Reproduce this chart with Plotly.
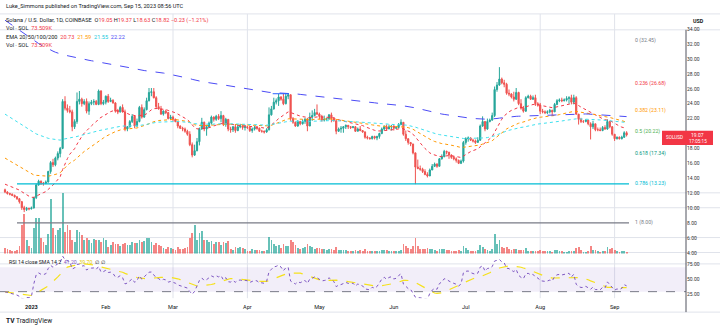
import pandas as pd
import plotly.graph_objects as go

W, H = 720, 332
PLOT_W = 686
FONT = "Roboto, Arial, sans-serif"

# ---------------- data ----------------
dates = pd.date_range("2022-12-21", "2023-09-06", freq="D")
first_open = 12.45

close = [
    # Dec 21-31
    12.15, 11.95, 11.85, 11.7, 11.5, 11.25, 10.85, 10.05, 9.8, 9.95, 9.9,
    # Jan
    10.0, 11.4, 13.1, 13.6, 13.35, 13.3, 13.5, 14.9, 16.1, 15.8, 16.7, 17.3, 18.0, 24.3, 23.4, 23.1,
    22.9, 20.9, 21.6, 24.3, 24.6, 24.0, 24.3, 23.0, 24.0, 24.2, 24.3, 23.9, 25.7, 24.0, 24.2,
    # Feb
    25.0, 24.3, 24.45, 24.1, 23.0, 22.9, 23.5, 22.9, 20.6, 20.9, 21.6, 22.3, 21.0, 21.6, 23.5, 22.2,
    23.2, 24.4, 25.5, 25.6, 24.8, 23.6, 23.3, 22.6, 23.0, 22.8, 22.0, 22.2,
    # Mar
    21.9, 21.6, 21.0, 20.7, 20.6, 20.3, 19.9, 18.5, 17.1, 17.7, 18.9, 20.6, 21.5, 20.6, 20.9, 21.4,
    22.2, 21.9, 22.3, 22.0, 22.4, 21.2, 21.9, 20.6, 20.5, 20.9, 20.4, 20.9, 21.0, 20.8, 20.9,
    # Apr
    20.8, 20.4, 20.6, 20.8, 20.7, 20.3, 20.3, 20.2, 20.5, 22.5, 23.3, 24.2, 24.4, 24.9, 24.6, 24.0,
    25.0, 25.2, 22.0, 21.5, 21.0, 21.6, 21.3, 21.6, 21.9, 21.0, 22.2, 22.4, 22.8, 22.6,
    # May
    22.3, 21.8, 21.9, 22.0, 22.5, 22.0, 21.7, 20.3, 20.6, 20.7, 20.9, 21.1, 20.9, 20.8, 20.9, 20.3,
    20.6, 20.4, 20.2, 19.5, 19.4, 19.3, 19.6, 19.4, 19.6, 20.0, 20.6, 20.9, 20.6, 20.9, 21.0,
    # Jun
    20.7, 20.8, 21.2, 21.5, 19.9, 19.3, 18.8, 18.6, 17.4, 15.5, 15.3, 15.2, 14.9, 14.5, 14.3, 15.1,
    15.6, 15.9, 15.6, 16.6, 16.9, 17.6, 17.5, 17.1, 16.8, 16.6, 16.4, 16.0, 16.3, 18.8,
    # Jul
    19.3, 19.4, 19.1, 19.0, 18.8, 19.1, 21.0, 21.6, 20.6, 21.6, 21.8, 22.4, 25.9, 26.5, 27.3, 26.8,
    26.6, 25.4, 25.3, 24.9, 24.6, 25.5, 24.0, 23.4, 23.0, 24.8, 25.0, 24.6, 24.8, 24.0, 23.8,
    # Aug
    23.0, 22.9, 22.8, 22.9, 23.1, 22.9, 23.9, 24.4, 24.5, 24.4, 24.5, 24.7, 24.8, 24.2, 24.8, 22.6,
    21.9, 21.6, 21.6, 21.8, 21.3, 20.9, 21.3, 20.5, 20.5, 20.4, 20.8, 20.6, 21.6, 20.9, 19.9,
    # Sep
    19.3, 19.5, 19.3, 19.5, 20.1, 19.8,
]

high = [
    12.6, 12.25, 12.05, 11.95, 11.8, 11.6, 11.35, 10.95, 10.3, 10.15, 10.05,
    10.2, 11.5, 13.3, 13.8, 13.7, 13.5, 13.7, 15.0, 16.3, 16.6, 16.9, 17.6, 18.2, 24.6, 25.0, 23.9,
    23.7, 23.2, 21.9, 25.5, 25.7, 24.8, 24.6, 24.7, 24.3, 24.5, 24.6, 24.5, 25.9, 25.8, 24.5,
    25.1, 25.3, 24.8, 24.6, 24.2, 23.3, 23.7, 23.9, 23.2, 21.0, 21.8, 22.6, 22.4, 22.0, 23.7, 23.9,
    23.5, 24.8, 26.1, 26.1, 26.1, 25.0, 24.1, 23.7, 23.1, 23.2, 22.9, 22.5,
    22.4, 22.0, 21.6, 21.1, 20.9, 20.8, 20.5, 20.3, 18.8, 18.5, 19.4, 20.8, 22.1, 21.6, 21.1, 21.6,
    22.4, 22.3, 22.5, 22.6, 23.0, 22.5, 22.1, 21.9, 20.9, 21.0, 21.2, 21.2, 21.3, 21.2, 21.1,
    21.0, 20.9, 20.8, 21.0, 21.0, 20.8, 20.5, 20.4, 20.7, 23.5, 23.7, 24.8, 24.7, 25.3, 25.0, 25.3,
    25.4, 25.4, 25.2, 22.2, 21.6, 21.8, 21.7, 21.9, 22.1, 22.1, 22.8, 23.1, 23.3, 23.9,
    22.8, 22.5, 22.4, 22.1, 22.6, 22.8, 22.1, 21.9, 20.8, 21.0, 21.0, 21.2, 21.1, 21.0, 21.0, 21.0,
    20.8, 21.0, 20.4, 20.3, 19.7, 19.5, 19.7, 19.7, 19.7, 20.1, 20.8, 21.1, 21.2, 21.2, 21.1,
    21.1, 21.0, 21.4, 21.9, 21.5, 20.4, 19.1, 18.8, 18.6, 17.4, 16.5, 15.7, 15.4, 15.2, 14.8, 15.3,
    15.9, 16.1, 16.0, 16.7, 17.2, 17.8, 17.7, 17.5, 17.2, 17.0, 16.8, 16.5, 16.5, 19.0,
    19.5, 19.6, 19.5, 19.3, 19.2, 19.5, 21.2, 22.3, 21.5, 22.0, 22.0, 22.8, 26.3, 26.9, 28.9, 27.5,
    27.2, 26.8, 25.9, 25.4, 25.6, 26.1, 25.6, 24.6, 23.7, 25.0, 25.2, 25.2, 25.1, 25.2, 24.2,
    24.1, 23.3, 23.1, 23.1, 23.3, 23.2, 24.1, 24.6, 24.7, 24.8, 24.7, 25.0, 25.0, 25.2, 25.2, 25.0,
    22.6, 22.1, 21.8, 21.9, 21.8, 21.5, 21.7, 21.3, 20.8, 20.8, 21.0, 21.1, 21.9, 21.7, 21.0,
    19.9, 19.6, 19.6, 19.7, 20.3, 20.3,
]

low = [
    12.0, 11.8, 11.7, 11.6, 11.4, 11.1, 10.6, 9.75, 9.45, 9.6, 9.7,
    9.8, 9.95, 11.2, 13.0, 13.1, 13.0, 13.2, 13.4, 14.6, 15.5, 15.6, 16.4, 16.8, 17.9, 23.1, 22.8,
    22.7, 20.3, 20.6, 21.3, 23.9, 23.6, 23.8, 22.7, 22.5, 23.8, 23.8, 23.8, 23.8, 23.8, 23.8,
    23.9, 24.1, 24.2, 24.0, 22.8, 22.6, 22.8, 22.8, 20.3, 20.3, 20.8, 21.4, 20.7, 20.9, 21.5, 22.0,
    22.1, 23.1, 24.3, 25.0, 24.7, 23.4, 23.2, 22.5, 22.4, 22.6, 21.9, 21.8,
    21.6, 21.5, 20.7, 20.6, 20.3, 20.1, 19.7, 18.3, 16.8, 17.0, 17.6, 18.4, 20.5, 20.3, 19.7, 20.8,
    21.2, 21.6, 21.7, 21.8, 21.5, 21.0, 20.9, 20.3, 20.1, 20.2, 20.1, 20.3, 20.7, 20.5, 20.4,
    20.6, 20.2, 20.1, 20.4, 20.5, 20.2, 20.1, 20.0, 20.1, 20.4, 22.4, 23.2, 23.9, 23.7, 24.4, 23.8,
    23.9, 24.6, 21.7, 21.3, 20.9, 20.9, 21.1, 21.2, 21.3, 20.3, 21.0, 21.7, 22.3, 22.5,
    21.9, 21.6, 21.6, 21.7, 21.8, 21.5, 21.6, 19.9, 20.2, 20.1, 20.1, 20.6, 20.6, 20.6, 20.7, 20.2,
    20.3, 20.3, 20.1, 19.3, 19.2, 19.2, 19.2, 19.2, 19.1, 19.3, 19.9, 20.4, 20.4, 20.6, 20.4,
    20.4, 20.6, 20.7, 21.1, 19.7, 19.0, 18.5, 18.3, 17.2, 13.2, 15.2, 15.0, 14.7, 14.4, 14.1, 14.3,
    15.1, 15.5, 15.4, 15.6, 16.5, 16.8, 17.2, 16.6, 16.6, 16.4, 16.1, 15.9, 15.9, 16.1,
    18.5, 18.9, 19.0, 18.8, 18.6, 18.8, 19.0, 20.9, 20.3, 20.5, 21.5, 21.7, 22.2, 25.6, 26.4, 26.6,
    26.2, 25.2, 25.0, 24.7, 24.3, 24.5, 23.8, 23.2, 22.8, 22.9, 24.7, 24.5, 24.5, 23.7, 23.6,
    22.6, 22.7, 22.6, 22.6, 22.7, 22.4, 22.9, 23.8, 24.2, 24.2, 24.3, 24.3, 24.0, 23.9, 23.9, 22.5,
    21.2, 21.4, 21.4, 21.5, 21.1, 19.2, 20.6, 20.3, 20.3, 20.3, 20.3, 20.5, 20.5, 20.7, 19.7,
    19.0, 19.2, 19.2, 19.2, 19.4, 19.6,
]

volume_k = [  # thousand SOL
    900, 750, 600, 450, 450, 600, 1200, 4350, 6000, 2100, 1200,
    900, 3900, 5400, 5400, 2400, 1800, 1350, 3000, 8250, 3900, 2850, 3600, 3900, 9150, 3300, 4350,
    3600, 2100, 1800, 3600, 3300, 2850, 2100, 2400, 2100, 1650, 2250, 2100, 2100, 1800, 2400,
    2100, 1050, 1350, 1800, 1500, 1500, 1200, 1500, 1650, 1350, 1350, 1800, 1650, 1650, 2100, 1800,
    1950, 2400, 2400, 1800, 1350, 1650, 1350, 1200, 900, 750, 1050, 900,
    750, 600, 1050, 750, 750, 900, 1050, 2400, 3150, 4350, 2100, 3150, 3450, 2100, 2100, 1800,
    1950, 1500, 1800, 1800, 1350, 1800, 1650, 1950, 750, 600, 1050, 900, 1050, 900, 750,
    450, 450, 750, 600, 600, 600, 450, 450, 600, 2550, 2100, 1500, 1200, 1350, 900, 1500,
    1200, 1200, 2100, 1800, 1350, 900, 750, 900, 1050, 1500, 1200, 1050, 750, 900,
    900, 750, 750, 600, 750, 750, 600, 1050, 600, 600, 600, 600, 450, 450, 450, 600,
    450, 600, 450, 750, 450, 450, 450, 450, 450, 450, 600, 600, 600, 450, 450,
    450, 450, 450, 600, 1500, 1200, 900, 750, 1200, 2400, 1200, 750, 750, 750, 900, 750,
    750, 600, 450, 750, 750, 750, 600, 600, 450, 450, 450, 600, 450, 1200,
    900, 600, 450, 450, 450, 600, 1350, 1050, 750, 600, 450, 750, 3000, 1500, 2100, 1050,
    900, 1050, 750, 600, 750, 750, 600, 600, 600, 900, 450, 450, 450, 450, 450,
    600, 450, 450, 450, 450, 300, 600, 600, 450, 450, 300, 300, 450, 450, 450, 900,
    1050, 600, 300, 300, 450, 1200, 600, 600, 450, 300, 450, 450, 1050, 750, 900,
    600, 450, 300, 450, 450, 300,
]

# starting values of the indicators as seen at the left edge
ema_periods = [20, 50, 100, 200]
ema_start = [13.2, 16.7, 22.6, 35.2]
ema_colors = ["#f23645", "#ff9800", "#3fe0ee", "#4b4bf5"]
ema_dash = ["dot", "dot", "dot", "dash"]
rsi_start_gain, rsi_start_loss = 0.12, 0.26

fib_names = ["0", "0.236", "0.382", "0.5", "0.618", "0.786", "1"]
fib_prices = [32.45, 26.68, 23.11, 20.22, 17.34, 13.23, 8.00]
fib_colors = ["#787b86", "#f23645", "#ff9800", "#4caf50", "#089981", "#00bcd4", "#787b86"]

price_ticks = [4, 6, 8, 10, 12, 14, 16, 18, 22, 24, 26, 28, 30, 32, 34]
rsi_ticks = [25, 50, 75]
month_ticks = ["2023-01-01", "2023-02-01", "2023-03-01", "2023-04-01", "2023-05-01",
               "2023-06-01", "2023-07-01", "2023-08-01", "2023-09-01"]
month_text = ["<b>2023</b>", "Feb", "Mar", "Apr", "May", "Jun", "Jul", "Aug", "Sep"]

assert len(close) == len(high) == len(low) == len(volume_k) == len(dates), (
    len(close), len(high), len(low), len(volume_k), len(dates))

opens = [first_open] + close[:-1]

# ---------------- indicators ----------------
emas = []
for period, seed in zip(ema_periods, ema_start):
    k = 2.0 / (period + 1)
    vals = [seed]
    for c in close[1:]:
        vals.append(vals[-1] + k * (c - vals[-1]))
    emas.append(vals)

ag, al = rsi_start_gain, rsi_start_loss
rsi = []
for i, c in enumerate(close):
    prev = opens[0] if i == 0 else close[i - 1]
    ch = c - prev
    ag = (ag * 13 + max(ch, 0)) / 14
    al = (al * 13 + max(-ch, 0)) / 14
    rsi.append(100 - 100 / (1 + ag / al))
rsi_ma = pd.Series(rsi).rolling(14, min_periods=1).mean().tolist()

# ---------------- helpers ----------------
def px(x):
    return x / PLOT_W

def py(y):
    return 1 - y / H

def xdate(x):
    return pd.Timestamp("2023-01-01") + pd.Timedelta(days=(x - 31.4) / 2.4)

def price_at(y):
    return 32 - (y - 44.3) / 7.5

def rsi_at(y):
    return 75 - (y - 265.7) / 0.616

UP, DOWN = "#26a69a", "#ef5350"

fig = go.Figure()

vol_colors = ["rgba(38,166,154,0.7)" if c >= o else "rgba(239,83,80,0.7)"
              for o, c in zip(opens, close)]
fig.add_trace(go.Bar(x=dates, y=volume_k, marker=dict(color=vol_colors, line=dict(width=0)),
                     width=0.75 * 86400000, xaxis="x", yaxis="y3", hoverinfo="skip"))

fig.add_trace(go.Candlestick(
    x=dates, open=opens, high=high, low=low, close=close,
    increasing=dict(line=dict(color=UP, width=1), fillcolor=UP),
    decreasing=dict(line=dict(color=DOWN, width=1), fillcolor=DOWN),
    whiskerwidth=0, xaxis="x", yaxis="y", hoverinfo="skip"))

for vals, col, dash in zip(emas, ema_colors, ema_dash):
    fig.add_trace(go.Scatter(x=dates, y=vals, mode="lines",
                             line=dict(color=col, width=1, dash=dash),
                             xaxis="x", yaxis="y", hoverinfo="skip"))

fig.add_trace(go.Scatter(x=dates, y=rsi_ma, mode="lines",
                         line=dict(color="#f5e11b", width=1.2, dash="dash"),
                         xaxis="x", yaxis="y2", hoverinfo="skip"))
fig.add_trace(go.Scatter(x=dates, y=rsi, mode="lines",
                         line=dict(color="#7e57c2", width=1, dash="dot"),
                         xaxis="x", yaxis="y2", hoverinfo="skip"))

GRID = "#e0e3eb"
shapes = []
# horizontal grid / borders
for yy in [14, 30, 194, 209, 239, 254, 265.5, 314]:
    shapes.append(dict(type="line", xref="paper", yref="paper", x0=0, x1=W / PLOT_W,
                       y0=py(yy), y1=py(yy), line=dict(color=GRID, width=1), layer="below"))
for d in ["2023-03-01", "2023-04-01", "2023-08-01", "2023-09-01"]:
    shapes.append(dict(type="line", xref="x", yref="paper", x0=d, x1=d, y0=py(300), y1=py(14),
                       line=dict(color=GRID, width=1), layer="below"))
# RSI band
shapes.append(dict(type="rect", xref="paper", yref="y2", x0=0, x1=1, y0=30, y1=70,
                   fillcolor="rgba(126,87,194,0.1)", line=dict(width=0), layer="below"))
shapes.append(dict(type="line", xref="paper", yref="y2", x0=0, x1=1, y0=30, y1=30,
                   line=dict(color="#787b86", width=1, dash="dash"), layer="below"))
# fib lines (visible ones)
for i in [5, 6]:
    shapes.append(dict(type="line", xref="x", yref="y", x0=xdate(17), x1=xdate(629),
                       y0=fib_prices[i], y1=fib_prices[i],
                       line=dict(color=fib_colors[i], width=1.2), layer="above"))
# April resistance line
shapes.append(dict(type="line", xref="x", yref="y", x0=xdate(272.7), x1=xdate(289),
                   y0=price_at(94.3), y1=price_at(94.3), line=dict(color="#2962ff", width=1)))
# right price-scale border
shapes.append(dict(type="line", xref="paper", yref="paper", x0=1, x1=1, y0=py(314), y1=py(30),
                   line=dict(color="#50535e", width=1)))
# last price label
shapes.append(dict(type="rect", xref="paper", yref="paper", x0=px(662), x1=px(713),
                   y0=py(146), y1=py(131.5), fillcolor="#f23645", line=dict(width=0), layer="above"))

annotations = []

def ann(x, y, text, size=5.6, color="#131722", xanchor="left"):
    annotations.append(dict(x=px(x), y=py(y), xref="paper", yref="paper", text=text,
                            showarrow=False, xanchor=xanchor, yanchor="middle",
                            font=dict(size=size, color=color, family=FONT)))

def span(t, c):
    return f"<span style='color:{c}'>{t}</span>"

R = "#f23645"
ann(4, 6, "Luke_Simmons published on TradingView.com, Sep 15, 2023 08:56 UTC")
ann(4, 20.7, "Solana / U.S. Dollar, 1D, COINBASE  O" + span("19.05", R) + " H" + span("19.37", R)
    + " L" + span("18.63", R) + " C" + span("18.82", R) + " " + span("\u22120.23 (\u22121.21%)", R))
ann(4, 28.2, "Vol \u00b7 SOL  " + span("73.509K", R))
ann(4, 37.7, "EMA 20/50/100/200  " + span("20.73", ema_colors[0]) + "  " + span("21.59", ema_colors[1])
    + "  " + span("21.55", "#17c9dc") + "  " + span("22.22", ema_colors[3]))
ann(4, 45.2, "Vol \u00b7 SOL  " + span("73.509K", R))
ann(7, 263.3, "RSI 14 close SMA 14 2  " + span("41.20", "#7e57c2") + "  " + span("39.70", "#e0c600")
    + "  \u2205  \u2205", size=5.2)
ann(691, 21, "<b>USD</b>", size=5.4)
ann(4, 322.5, "<b>TV</b> TradingView", size=6.6)

for name, p, col in zip(fib_names, fib_prices, fib_colors):
    annotations.append(dict(x=px(633), y=p, xref="paper", yref="y", text=f"{name} ({p:.2f})",
                            showarrow=False, xanchor="left", yanchor="middle",
                            font=dict(size=5.2, color=col, family=FONT)))

ann(674, 138.8, "SOLUSD", size=4.6, color="white", xanchor="center")
ann(697, 136, "19.07", size=5, color="white", xanchor="center")
ann(698, 142.8, "17:05:15", size=4.6, color="white", xanchor="center")

TICKFONT = dict(size=5, color="#333", family=FONT)

fig.update_layout(
    width=W, height=H, margin=dict(l=0, r=W - PLOT_W, t=0, b=0),
    paper_bgcolor="white", plot_bgcolor="rgba(0,0,0,0)",
    showlegend=False, hovermode=False, bargap=0,
    xaxis=dict(type="date", domain=[0, 1], anchor="y2",
               range=[xdate(0), xdate(PLOT_W)],
               tickvals=month_ticks, ticktext=month_text, ticks="",
               ticklabelstandoff=4,
               tickfont=dict(size=5.6, color="#131722", family=FONT),
               showgrid=False, zeroline=False, showline=False,
               rangeslider=dict(visible=False), fixedrange=True),
    yaxis=dict(domain=[py(255), py(15)], range=[price_at(255), price_at(15)],
               side="right", anchor="x", tickvals=price_ticks,
               ticktext=[f"{v:.2f}" for v in price_ticks], ticks="",
               tickfont=TICKFONT, showgrid=False, zeroline=False, showline=False),
    yaxis2=dict(domain=[py(300), py(256)], range=[rsi_at(300), rsi_at(256)],
                side="right", anchor="x", tickvals=rsi_ticks,
                ticktext=[f"{v:.2f}" for v in rsi_ticks], ticks="",
                tickfont=TICKFONT, showgrid=False, zeroline=False, showline=False),
    yaxis3=dict(overlaying="y", range=[0, 36000], visible=False, anchor="x"),
    shapes=shapes, annotations=annotations,
)

fig.write_html("out.html")
